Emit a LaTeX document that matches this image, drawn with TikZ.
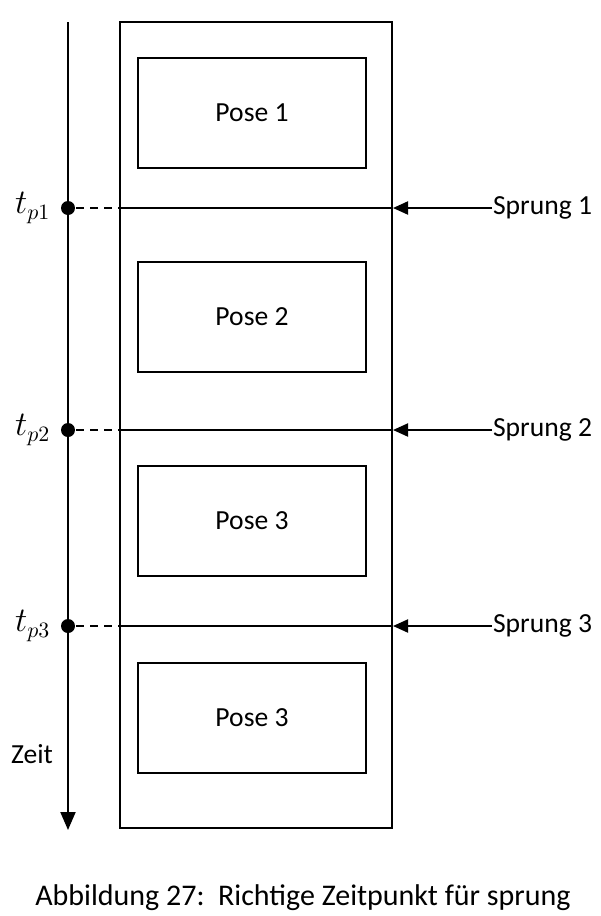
\documentclass[tikz,border=0pt]{standalone}
\usepackage{fontspec}
\setmainfont{Carlito}
\usetikzlibrary{arrows.meta}

\begin{document}
\begin{tikzpicture}[x=0.5pt,y=-0.5pt,font=\fontsize{13.8}{16}\selectfont,
	line width=1pt,
	posebox/.style={draw, minimum width=114pt, minimum height=55pt, inner sep=0pt},
	dot/.style={circle, fill=black, minimum size=7pt, inner sep=0pt},
	pfeil/.style={-{Triangle[length=7.5pt,width=6.5pt]}}]
	\useasboundingbox (0,0) rectangle (600,916);
	\node[draw, minimum width=136pt, minimum height=403pt, inner sep=0pt] (frame) at (256,425) {};
	\foreach \i/\y/\t in {1/113/Pose 1, 2/317/Pose 2, 3/521/Pose 3, 4/718/Pose 3} {
		\node[posebox] (pose\i) at (252,\y) {\t};
	}
	% Zeitachse
	\coordinate (ztop) at (68,22);
	\coordinate (zbot) at (68,830);
	\draw[-{Triangle[length=9pt,width=7.5pt]}] (ztop) -- (zbot);
	\node (zeit) at (32,754) {Zeit};
	\foreach \i/\y in {1/208, 2/430, 3/626} {
		\node[dot] (tp\i) at (68,\y) {};
		\node[left=1pt, font=\fontsize{16}{18}\selectfont] (tl\i) at (tp\i.west) {$t_{p\i}$};
		\coordinate (fl\i) at (frame.west |- tp\i);
		\coordinate (fr\i) at (frame.east |- tp\i);
		\node[anchor=west, inner sep=0pt] (sp\i) at (492,\y) {Sprung \i};
		\draw[dash pattern=on 4pt off 3pt] (tp\i) -- (fl\i);
		\draw (fl\i) -- (fr\i);
		\draw[pfeil] (sp\i.west) -- (fr\i);
	}
	\node[font=\fontsize{15}{18}\selectfont] (caption) at (303,898) {Abbildung 27:\ \ Richtige Zeitpunkt für sprung};
\end{tikzpicture}
\end{document}
